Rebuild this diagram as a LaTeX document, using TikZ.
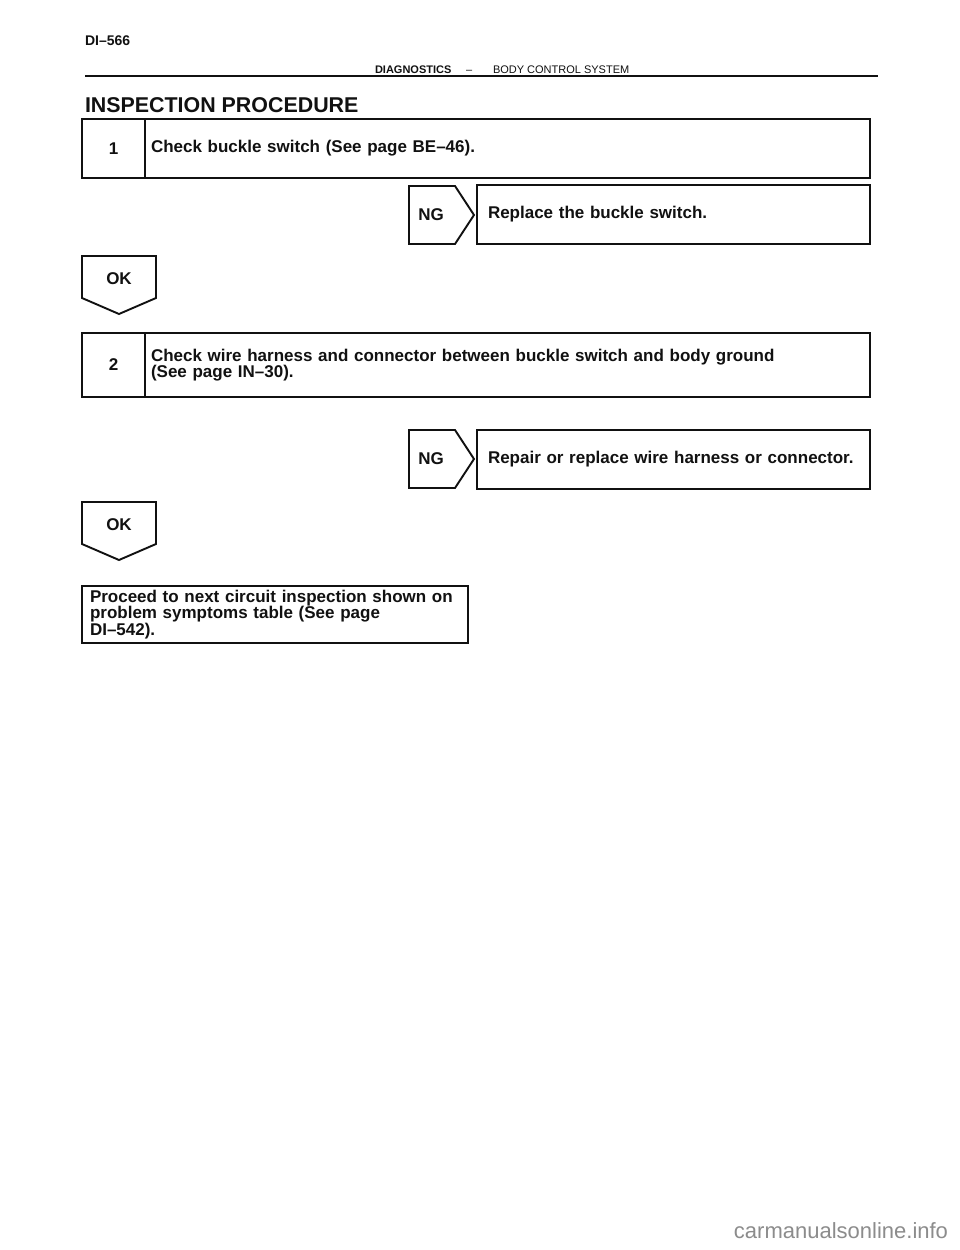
\documentclass[tikz,border=0pt]{standalone}
\usepackage{fontspec}
\setmainfont{Liberation Sans}
\usetikzlibrary{positioning}
\definecolor{inkblack}{HTML}{111111}
\definecolor{markgrey}{HTML}{8C8C8C}
\newcommand{\boxfont}{\fontsize{17}{16}\selectfont\bfseries}

\begin{document}
\begin{tikzpicture}[x=1pt, y=-1pt,
  every node/.style={inner sep=0pt, outer sep=0pt, text=inkblack},
  frame/.style={draw=inkblack, line width=1.9pt, line join=miter},
  stepnum/.style={frame, minimum width=63pt, font=\boxfont},
  steptext/.style={frame, minimum width=725pt, text width=713pt,
    inner xsep=6pt, align=left, font=\boxfont},
  resbox/.style={frame, minimum width=393pt, minimum height=59pt,
    text width=371pt, inner xsep=11pt, align=left, font=\boxfont},
  tagtext/.style={font=\boxfont}]
\useasboundingbox[fill=white] (0,0) rectangle (960,1250);
\node[anchor=base west, font=\fontsize{14}{14}\selectfont\bfseries] (pageno) at (85,45) {DI–566};
\draw[line width=1.6pt, inkblack] (85,76) -- (878,76);
\node[anchor=base west, font=\fontsize{11}{11}\selectfont\bfseries] (section) at (375,73) {DIAGNOSTICS};
\node[anchor=base west, font=\fontsize{11}{11}\selectfont] (dash) at (466,73) {–};
\node[anchor=base west, font=\fontsize{11}{11}\selectfont] (system) at (493,73) {BODY CONTROL SYSTEM};
\node[anchor=base west, font=\fontsize{21.4}{21.4}\selectfont\bfseries] (title) at (85,112) {INSPECTION PROCEDURE};
\node[stepnum, minimum height=59pt, anchor=north west] (num1) at (82,119) {1};
\node[steptext, minimum height=59pt, anchor=north west] (step1) at (num1.north east)
  {Check buckle switch (See page BE–46).};
\node[stepnum, minimum height=64pt, anchor=north west] (num2) at (82,333) {2};
\node[steptext, minimum height=64pt, anchor=north west] (step2) at (num2.north east)
  {Check wire harness and connector between buckle switch and body ground\\(See page IN–30).};
\foreach \nm/\ty in {ng1/186, ng2/430} {
  \draw[frame] (409,\ty) -- (455,\ty) -- (474,\ty+29) -- (455,\ty+58) -- (409,\ty+58) -- cycle;
  \node[tagtext] (\nm) at (431,\ty+29) {NG};}
\foreach \nm/\ty in {ok1/256, ok2/502} {
  \draw[frame] (82,\ty) -- (156,\ty) -- (156,\ty+42) -- (119,\ty+58) -- (82,\ty+42) -- cycle;
  \node[tagtext] (\nm) at (119,\ty+23) {OK};}
\node[resbox, anchor=north west] (fix1) at (477,185) {Replace the buckle switch.};
\node[resbox, anchor=north west] (fix2) at (477,430) {Repair or replace wire harness or connector.};
\node[frame, anchor=north west, minimum width=386pt, minimum height=57pt, text width=370pt,
      inner xsep=8pt, align=left, font=\fontsize{17}{14.5}\selectfont\bfseries] (next) at (82,586)
  {Proceed to next circuit inspection shown on\\problem symptoms table (See page\\DI–542).};
\node[anchor=base east, text=markgrey, font=\fontsize{22}{22}\selectfont] (mark) at (948,1238) {carmanualsonline.info};
\end{tikzpicture}
\end{document}
